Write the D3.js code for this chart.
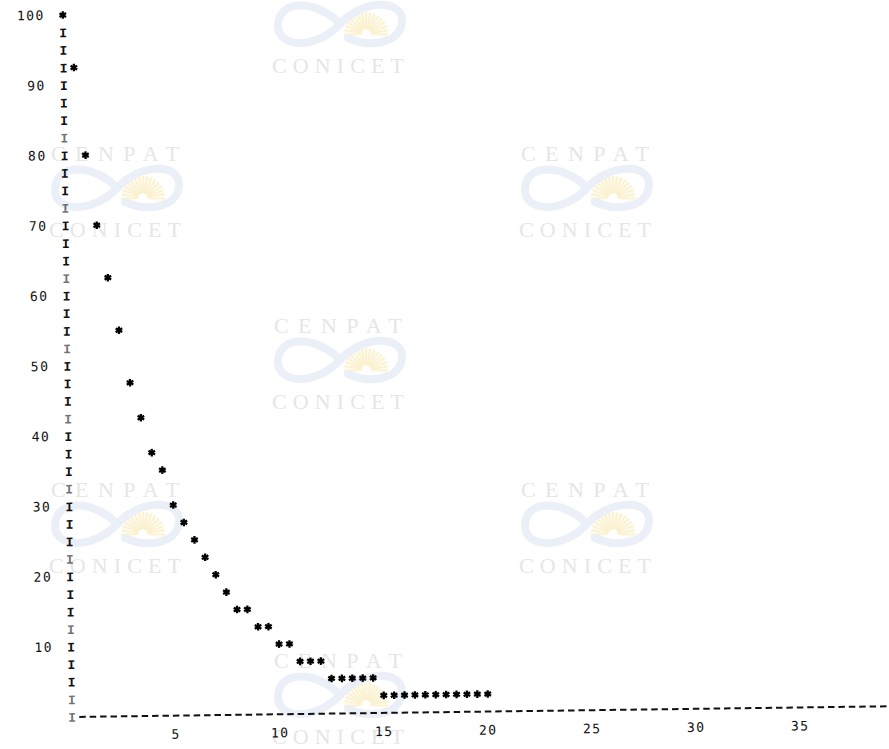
<!DOCTYPE html>
<html>
<head>
<meta charset="utf-8">
<script src="https://cdn.jsdelivr.net/npm/d3@7"></script>
<style>
  html, body { margin: 0; padding: 0; background: #fff; }
  svg { display: block; }
</style>
</head>
<body>
<svg id="chart" width="889" height="749"></svg>
<script>
// ---- data ----
const xValues = [0, 0.5, 1, 1.5, 2, 2.5, 3, 3.5, 4, 4.5, 5, 5.5, 6, 6.5, 7, 7.5, 8, 8.5, 9, 9.5,
                 10, 10.5, 11, 11.5, 12, 12.5, 13, 13.5, 14, 14.5, 15, 15.5, 16, 16.5, 17, 17.5,
                 18, 18.5, 19, 19.5, 20];
const yValues = [100, 92.5, 80, 70, 62.5, 55, 47.5, 42.5, 37.5, 35, 30, 27.5, 25, 22.5, 20, 17.5,
                 15, 15, 12.5, 12.5, 10, 10, 7.5, 7.5, 7.5, 5, 5, 5, 5, 5,
                 2.5, 2.5, 2.5, 2.5, 2.5, 2.5, 2.5, 2.5, 2.5, 2.5, 2.5];
const yTickValues = [100, 90, 80, 70, 60, 50, 40, 30, 20, 10];
const yTickLabels = ["100", "90", "80", "70", "60", "50", "40", "30", "20", "10"];
const xTickValues = [5, 10, 15, 20, 25, 30, 35];
const xTickLabels = ["5", "10", "15", "20", "25", "30", "35"];
const yAxisRows = [0, 2.5, 5, 7.5, 10, 12.5, 15, 17.5, 20, 22.5, 25, 27.5, 30, 32.5, 35, 37.5, 40,
                   42.5, 45, 47.5, 50, 52.5, 55, 57.5, 60, 62.5, 65, 67.5, 70, 72.5, 75, 77.5, 80,
                   82.5, 85, 87.5, 90, 92.5, 95, 97.5];
const watermarkSpots = [
  {x: 338, y: -11, top: false}, {x: 115, y: 153, top: true}, {x: 585, y: 153, top: true},
  {x: 338, y: 325, top: true}, {x: 115, y: 489, top: true}, {x: 585, y: 489, top: true},
  {x: 338, y: 660, top: true}
];
const wmTop = "CENPAT", wmBottom = "CONICET";

const svg = d3.select("#chart");

// ---- watermarks ----
const wm = svg.append("g").attr("class", "watermarks");
watermarkSpots.forEach(s => {
  const g = wm.append("g").attr("transform", `translate(${s.x},${s.y})`);
  if (s.top) {
    g.append("text").attr("x", 0).attr("y", 8).attr("text-anchor", "middle")
      .attr("font-family", "Liberation Serif, serif").attr("font-size", 22)
      .attr("textLength", 128).attr("lengthAdjust", "spacing")
      .attr("fill", "#e6e6e6").text(wmTop);
  }
  const logo = g.append("g").attr("transform", "translate(2,35)");
  const sun = logo.append("g").attr("transform", "translate(26,10)");
  sun.append("path").attr("d", d3.arc()({innerRadius: 4, outerRadius: 22, startAngle: -Math.PI / 2 - 0.2, endAngle: Math.PI / 2 + 0.2}))
    .attr("fill", "#fefaec");
  d3.range(-1.6, 1.61, 0.2).forEach(a => {
    sun.append("line").attr("x1", 5 * Math.sin(a)).attr("y1", -5 * Math.cos(a))
      .attr("x2", 22 * Math.sin(a)).attr("y2", -22 * Math.cos(a))
      .attr("stroke", "#fbf0cc").attr("stroke-width", 1.4);
  });
  logo.append("path")
    .attr("d", "M0,0 C-22,-24 -62,-26 -62,2 C-62,24 -24,26 0,0 C24,-26 62,-24 62,-4 C62,20 30,24 8,14")
    .attr("fill", "none").attr("stroke", "#ebf0f8").attr("stroke-width", 8).attr("stroke-linecap", "round");
  g.append("text").attr("x", 0).attr("y", 84).attr("text-anchor", "middle")
    .attr("font-family", "Liberation Serif, serif").attr("font-size", 22)
    .attr("textLength", 132).attr("lengthAdjust", "spacing")
    .attr("fill", "#e6e6e6").text(wmBottom);
});

// ---- plot (slightly rotated like the scan) ----
const x = d3.scaleLinear().domain([0, 40]).range([72, 904]);
const y = d3.scaleLinear().domain([0, 100]).range([717, 15]);

const plot = svg.append("g").attr("transform", `rotate(-0.75, 71, 717)`);
const mono = "Liberation Mono, DejaVu Sans Mono, monospace";

// y axis drawn as a column of "I" characters
plot.append("g").selectAll("text").data(yAxisRows).join("text")
  .attr("x", x(0)).attr("y", d => y(d)).attr("dy", "0.36em")
  .attr("text-anchor", "middle").attr("font-family", mono).attr("font-weight", "bold")
  .attr("font-size", 13).attr("fill", "#111")
  .attr("fill-opacity", d => (d % 10 === 2.5 && d !== 92.5) || d === 0 ? 0.6 : 1)
  .text("I");

// y tick labels
plot.append("g").selectAll("text").data(yTickValues).join("text")
  .attr("x", x(0) - 18).attr("y", d => y(d)).attr("dy", "0.36em")
  .attr("text-anchor", "end").attr("font-family", "DejaVu Sans Mono, monospace")
  .attr("font-size", 13).attr("letter-spacing", 1.5).attr("fill", "#111")
  .text((d, i) => yTickLabels[i]);

// x axis as a dashed line
plot.append("line")
  .attr("x1", x(0.35)).attr("x2", x(40)).attr("y1", y(0)).attr("y2", y(0))
  .attr("stroke", "#111").attr("stroke-width", 2).attr("stroke-dasharray", "6.5,3.9");

// x tick labels
plot.append("g").selectAll("text").data(xTickValues).join("text")
  .attr("x", d => x(d)).attr("y", 740)
  .attr("text-anchor", "middle").attr("font-family", "DejaVu Sans Mono, monospace")
  .attr("font-size", 13).attr("letter-spacing", 1.5).attr("fill", "#111")
  .text((d, i) => xTickLabels[i]);

// data points as asterisks
const star = d3.symbol().type(d3.symbolAsterisk).size(40);
plot.append("g").selectAll("path").data(xValues.map((v, i) => ({x: v, y: yValues[i]}))).join("path")
  .attr("transform", d => `translate(${x(d.x)},${y(d.y)})`)
  .attr("d", star).attr("fill", "none").attr("stroke", "#000").attr("stroke-width", 2.3);
</script>
</body>
</html>
